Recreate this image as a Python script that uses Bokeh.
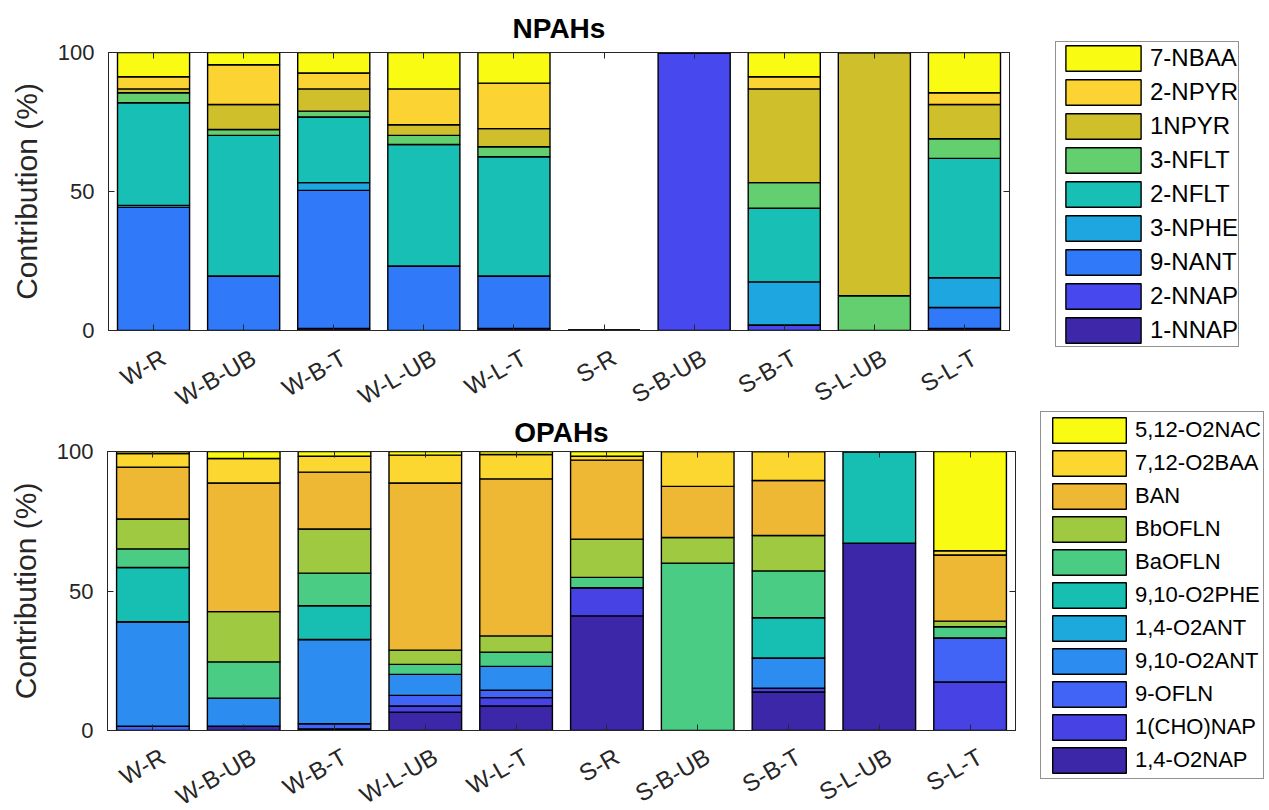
import math
from bokeh.plotting import figure
from bokeh.models import (ColumnDataSource, Range1d, FactorRange, LinearAxis,
                          CategoricalAxis, FixedTicker, Legend, LegendItem)
from bokeh.core.properties import value
from bokeh.layouts import column, row
from bokeh.embed import file_html
from bokeh.resources import INLINE

FONT = "Liberation Sans"
TXT = "#262626"

categories = ["W-R", "W-B-UB", "W-B-T", "W-L-UB", "W-L-T",
              "S-R", "S-B-UB", "S-B-T", "S-L-UB", "S-L-T"]

# ---- NPAHs (stack order bottom -> top) ----
npah_names = ["1-NNAP", "2-NNAP", "9-NANT", "3-NPHE", "2-NFLT",
              "3-NFLT", "1NPYR", "2-NPYR", "7-NBAA"]
npah_colors = ["#3e28a9", "#4748ee", "#3079f8", "#1ea6e0", "#18bfb4",
               "#64cf6f", "#cfbf2a", "#fbd332", "#f9fb12"]
nnap1 = [0, 0, 0.7, 0, 0.7, 0, 0, 0, 0, 0.7]
nnap2 = [0, 0, 0, 0, 0, 0, 100, 2.0, 0, 0]
nant9 = [44.3, 19.6, 49.7, 23.2, 18.9, 0, 0, 0, 0, 7.6]
nphe3 = [0.7, 0, 2.8, 0, 0, 0, 0, 15.5, 0, 10.7]
nflt2 = [36.9, 50.6, 23.6, 43.7, 42.9, 0, 0, 26.5, 0, 42.9]
nflt3 = [3.6, 2.1, 2.1, 3.3, 3.6, 0, 0, 9.2, 12.5, 7.1]
npyr1 = [1.4, 9.0, 8.0, 3.8, 6.5, 0, 0, 33.7, 87.5, 12.3]
npyr2 = [4.4, 14.3, 5.7, 12.9, 16.4, 0, 0, 4.4, 0, 4.2]
nbaa7 = [8.7, 4.4, 7.4, 13.1, 11.0, 0, 0, 8.7, 0, 14.5]
npah_values = [nnap1, nnap2, nant9, nphe3, nflt2, nflt3, npyr1, npyr2, nbaa7]

# ---- OPAHs (stack order bottom -> top) ----
opah_names = ["1,4-O2NAP", "1(CHO)NAP", "9-OFLN", "9,10-O2ANT", "1,4-O2ANT",
              "9,10-O2PHE", "BaOFLN", "BbOFLN", "BAN", "7,12-O2BAA", "5,12-O2NAC"]
opah_colors = ["#3d27a9", "#4642e3", "#4264f6", "#2c8cef", "#1ea9dd",
               "#17bfb3", "#4bcc85", "#a0c942", "#eeb834", "#fcd730", "#f9fb12"]
o2nap14 = [0, 1.5, 0.6, 6.6, 8.8, 41.1, 0, 13.8, 67.1, 0]
chonap1 = [0, 0, 0, 2.2, 3.0, 10.1, 0, 1.4, 0, 17.4]
ofln9 = [1.5, 0, 1.8, 3.8, 2.6, 0, 0, 0, 0, 15.8]
o2ant910 = [37.5, 10.1, 30.2, 7.5, 8.6, 0, 0, 10.8, 0, 0]
o2ant14 = [0, 0, 0, 0, 0, 0, 0, 0, 0, 0]
o2phe910 = [19.4, 0, 12.1, 0, 0, 0, 0, 14.4, 32.9, 0]
baofln = [6.7, 13.0, 11.7, 3.6, 5.1, 3.7, 60.0, 16.8, 0, 4.0]
bbofln = [10.7, 18.0, 15.8, 5.1, 5.8, 13.7, 9.2, 12.7, 0, 2.0]
ban = [18.6, 46.1, 20.4, 59.9, 56.3, 28.3, 18.3, 19.7, 0, 23.7]
o2baa712 = [4.9, 8.8, 5.7, 10.0, 8.7, 1.4, 12.5, 10.4, 0, 1.5]
o2nac512 = [0.7, 2.5, 1.7, 1.3, 1.1, 1.7, 0, 0, 0, 35.6]
opah_values = [o2nap14, chonap1, ofln9, o2ant910, o2ant14, o2phe910,
               baofln, bbofln, ban, o2baa712, o2nac512]

y_ticks = [0, 50, 100]
BAR_LINE = 1.4


def tick_only(axis):
    axis.major_tick_in = 6
    axis.major_tick_out = 0
    axis.minor_tick_line_color = None
    axis.axis_line_color = TXT
    axis.major_tick_line_color = TXT
    axis.major_label_text_color = None
    axis.major_label_text_font_size = "1px"
    axis.major_label_standoff = 0
    return axis


def make_chart(title, names, colors, values, xr, frame_w, frame_h, left, top,
               bottom, right, title_standoff):
    data = {"cat": categories}
    for nm, v in zip(names, values):
        data[nm] = v
    src = ColumnDataSource(data)

    p = figure(x_range=xr, y_range=Range1d(0, 100),
               frame_width=frame_w, frame_height=frame_h,
               min_border_left=left, min_border_top=top,
               min_border_bottom=bottom, min_border_right=right,
               toolbar_location=None, output_backend="svg",
               x_axis_location=None, y_axis_location=None)
    p.grid.visible = False
    p.outline_line_color = TXT
    p.outline_line_width = 1

    p.vbar_stack(names, x="cat", width=0.8, source=src,
                 fill_color=colors, line_color="black", line_width=BAR_LINE)

    yax = LinearAxis(ticker=FixedTicker(ticks=y_ticks),
                     axis_label="Contribution (%)")
    yax.major_tick_in = 6
    yax.major_tick_out = 0
    yax.minor_tick_line_color = None
    yax.axis_line_color = TXT
    yax.major_tick_line_color = TXT
    yax.major_label_text_font = FONT
    yax.major_label_text_font_size = "22px"
    yax.major_label_text_color = TXT
    yax.major_label_standoff = 14
    yax.axis_label_text_font = FONT
    yax.axis_label_text_font_size = "30px"
    yax.axis_label_text_font_style = "normal"
    yax.axis_label_text_color = TXT
    yax.axis_label_standoff = 12
    p.add_layout(yax, "left")

    p.add_layout(tick_only(CategoricalAxis()), "below")
    p.add_layout(tick_only(LinearAxis(ticker=FixedTicker(ticks=y_ticks))), "right")
    p.add_layout(tick_only(CategoricalAxis()), "above")

    p.title.text = title
    p.title.align = "center"
    p.title.text_font = FONT
    p.title.text_font_size = "28px"
    p.title.text_font_style = "bold"
    p.title.text_color = "black"
    p.title.standoff = title_standoff
    return p


def label_strip(xr, frame_w, left, right, h, anchor):
    s = figure(x_range=xr, y_range=Range1d(h, 0),
               frame_width=frame_w, frame_height=h,
               min_border_left=left, min_border_right=right,
               min_border_top=0, min_border_bottom=0,
               toolbar_location=None, output_backend="svg",
               x_axis_location=None, y_axis_location=None)
    s.grid.visible = False
    s.outline_line_color = None
    s.text(x=categories, y=[anchor] * len(categories), text=categories,
           angle=math.pi / 6, text_align="right", text_baseline="middle",
           x_offset=10, text_font=value(FONT), text_font_size="24px",
           text_color=TXT)
    return s


def legend_panel(names, colors, w, h, loc, font, glyph_w, spacing, padding,
                 standoff):
    s = figure(x_range=Range1d(0, 1), y_range=Range1d(0, 1),
               frame_width=w, frame_height=h,
               min_border_left=0, min_border_right=0,
               min_border_top=0, min_border_bottom=0,
               toolbar_location=None, output_backend="svg",
               x_axis_location=None, y_axis_location=None)
    s.grid.visible = False
    s.outline_line_color = None
    # legend proxies: degenerate bars hidden behind the opaque legend box
    rends = [s.vbar(x=[0.5], top=[0.5], bottom=[0.5], width=0.01, fill_color=c,
                    line_color="black", line_width=BAR_LINE) for c in colors]
    items = [LegendItem(label=nm, renderers=[r])
             for nm, r in reversed(list(zip(names, rends)))]
    leg = Legend(items=items, location=loc, margin=0, padding=padding,
                 spacing=spacing, glyph_width=glyph_w, glyph_height=32,
                 label_height=32, label_standoff=standoff,
                 label_text_font=FONT, label_text_font_size=font,
                 label_text_color="black",
                 border_line_color=TXT, border_line_width=1,
                 background_fill_color="white", background_fill_alpha=1.0)
    s.add_layout(leg, "center")
    return s


xr_top = FactorRange(factors=categories, range_padding=0)
xr_bot = FactorRange(factors=categories, range_padding=0)

# top block: chart 0..344, labels 344..411
top = make_chart("NPAHs", npah_names, npah_colors, npah_values, xr_top,
                 frame_w=901, frame_h=278, left=108, top=52, bottom=14,
                 right=4, title_standoff=18)
strip_top = label_strip(xr_top, 901, 108, 4, 67, 11)
leg_top = legend_panel(npah_names, npah_colors, 255, 411, (42, 64), "24px",
                       94, 2, 0, 0)

# bottom block: chart 411..744, labels 744..809
bot = make_chart("OPAHs", opah_names, opah_colors, opah_values, xr_bot,
                 frame_w=908, frame_h=279, left=107, top=40, bottom=14,
                 right=4, title_standoff=7)
strip_bot = label_strip(xr_bot, 908, 107, 4, 65, 10)
leg_bot = legend_panel(opah_names, opah_colors, 249, 398, (21, 30), "22px",
                       92, 1, 2, 0)

layout = column(row(column(top, strip_top, spacing=0), leg_top, spacing=0),
                row(column(bot, strip_bot, spacing=0), leg_bot, spacing=0),
                spacing=0)
open("out.html", "w").write(file_html(layout, INLINE))
